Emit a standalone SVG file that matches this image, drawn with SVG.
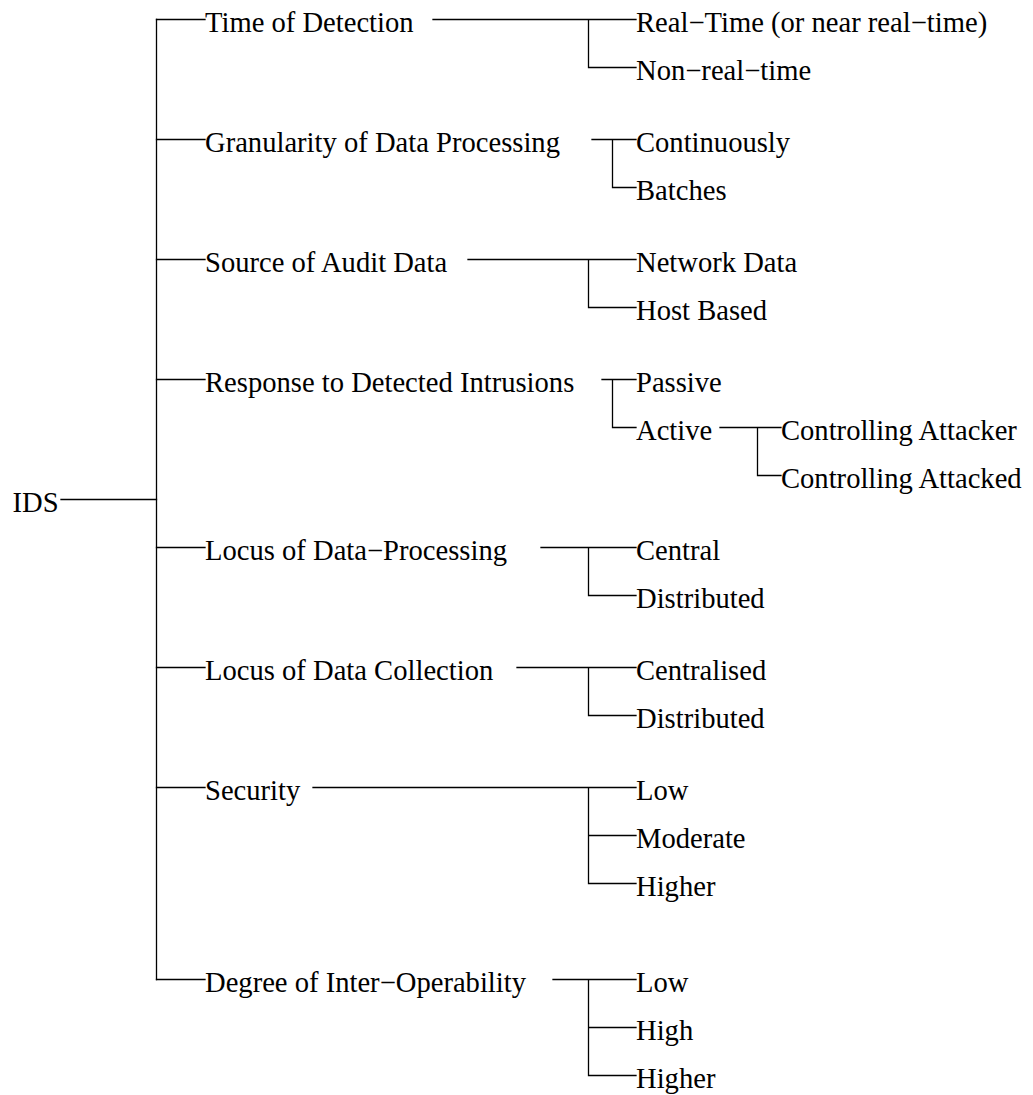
<svg xmlns="http://www.w3.org/2000/svg" width="1033" height="1095" viewBox="0 0 1033 1095">
  <style>
    .lbl { font-family: "Liberation Serif", "Times New Roman", serif; font-size: 28.6px; fill: #000; }
    .edge { stroke: #000; stroke-width: 1.3; fill: none; stroke-linecap: square; }
  </style>
  <rect width="1033" height="1095" fill="#fff"/>

  <!-- connectors: elbow tree lines -->
  <g id="connectors" class="edge">
    <!-- root -->
    <path d="M61,499.5 H156.5"/>
    <path d="M156.5,19.5 V979.5"/>
    <path d="M156.5,19.5 H205 M156.5,139.5 H205 M156.5,259.5 H205 M156.5,379.5 H205 M156.5,547.5 H205 M156.5,667.5 H205 M156.5,787.5 H205 M156.5,979.5 H205"/>
    <!-- Time of Detection -->
    <path d="M433,19.5 H636 M588.5,19.5 V67.5 H636"/>
    <!-- Granularity of Data Processing -->
    <path d="M592,139.5 H636 M612.5,139.5 V187.5 H636"/>
    <!-- Source of Audit Data -->
    <path d="M468,259.5 H636 M588.5,259.5 V307.5 H636"/>
    <!-- Response to Detected Intrusions -->
    <path d="M602,379.5 H636 M612.5,379.5 V427.5 H636"/>
    <!-- Active -->
    <path d="M720,427.5 H781 M757.5,427.5 V475.5 H781"/>
    <!-- Locus of Data-Processing -->
    <path d="M541,547.5 H636 M588.5,547.5 V595.5 H636"/>
    <!-- Locus of Data Collection -->
    <path d="M517,667.5 H636 M588.5,667.5 V715.5 H636"/>
    <!-- Security -->
    <path d="M313,787.5 H636 M588.5,787.5 V883.5 H636 M588.5,835.5 H636"/>
    <!-- Degree of Inter-Operability -->
    <path d="M553,979.5 H636 M588.5,979.5 V1075.5 H636 M588.5,1027.5 H636"/>
  </g>

  <!-- nodes -->
  <g id="n-ids"><text class="lbl" x="12.5" y="511.5">IDS</text></g>

  <g id="n-time"><text class="lbl" x="205" y="31.5">Time of Detection</text></g>
  <g id="n-time-rt"><text class="lbl" x="636" y="31.5">Real−Time (or near real−time)</text></g>
  <g id="n-time-nrt"><text class="lbl" x="636" y="79.5">Non−real−time</text></g>

  <g id="n-gran"><text class="lbl" x="205" y="151.5">Granularity of Data Processing</text></g>
  <g id="n-gran-cont"><text class="lbl" x="636" y="151.5">Continuously</text></g>
  <g id="n-gran-batch"><text class="lbl" x="636" y="199.5">Batches</text></g>

  <g id="n-src"><text class="lbl" x="205" y="271.5">Source of Audit Data</text></g>
  <g id="n-src-net"><text class="lbl" x="636" y="271.5">Network Data</text></g>
  <g id="n-src-host"><text class="lbl" x="636" y="319.5">Host Based</text></g>

  <g id="n-resp"><text class="lbl" x="205" y="391.5">Response to Detected Intrusions</text></g>
  <g id="n-resp-passive"><text class="lbl" x="636" y="391.5">Passive</text></g>
  <g id="n-resp-active"><text class="lbl" x="636" y="439.5">Active</text></g>
  <g id="n-active-attacker"><text class="lbl" x="781" y="439.5">Controlling Attacker</text></g>
  <g id="n-active-attacked"><text class="lbl" x="781" y="487.5">Controlling Attacked</text></g>

  <g id="n-ldp"><text class="lbl" x="205" y="559.5">Locus of Data−Processing</text></g>
  <g id="n-ldp-central"><text class="lbl" x="636" y="559.5">Central</text></g>
  <g id="n-ldp-dist"><text class="lbl" x="636" y="607.5">Distributed</text></g>

  <g id="n-ldc"><text class="lbl" x="205" y="679.5">Locus of Data Collection</text></g>
  <g id="n-ldc-central"><text class="lbl" x="636" y="679.5">Centralised</text></g>
  <g id="n-ldc-dist"><text class="lbl" x="636" y="727.5">Distributed</text></g>

  <g id="n-sec"><text class="lbl" x="205" y="799.5">Security</text></g>
  <g id="n-sec-low"><text class="lbl" x="636" y="799.5">Low</text></g>
  <g id="n-sec-mod"><text class="lbl" x="636" y="847.5">Moderate</text></g>
  <g id="n-sec-higher"><text class="lbl" x="636" y="895.5">Higher</text></g>

  <g id="n-dio"><text class="lbl" x="205" y="991.5">Degree of Inter−Operability</text></g>
  <g id="n-dio-low"><text class="lbl" x="636" y="991.5">Low</text></g>
  <g id="n-dio-high"><text class="lbl" x="636" y="1039.5">High</text></g>
  <g id="n-dio-higher"><text class="lbl" x="636" y="1087.5">Higher</text></g>
</svg>
